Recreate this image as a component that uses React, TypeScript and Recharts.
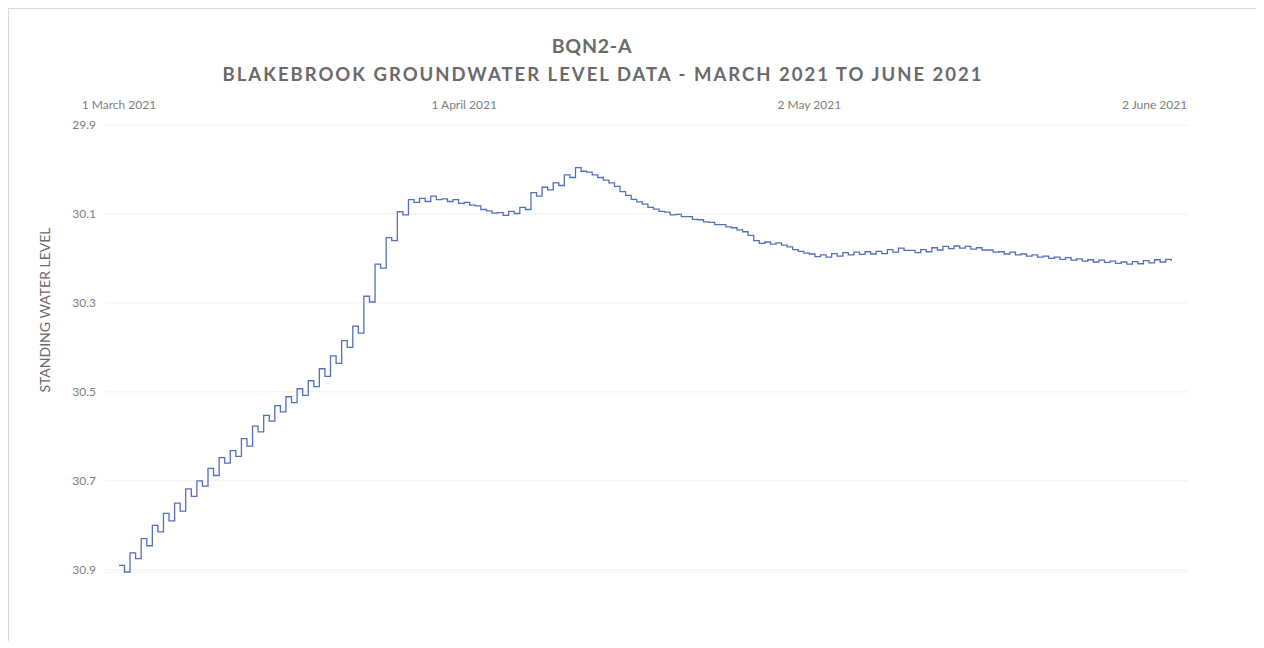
import React from 'react';
import { LineChart, Line, XAxis, YAxis, CartesianGrid } from 'recharts';

// Standing water level, read twice a day (start of day / midday), 1 March 2021 = day 0
const morningLevel = [
  30.890, 30.862, 30.830, 30.800, 30.773, 30.750, 30.718, 30.700, 30.672, 30.648,
  30.632, 30.605, 30.577, 30.553, 30.531, 30.511, 30.493, 30.475, 30.448, 30.419,
  30.385, 30.352, 30.285, 30.213, 30.153, 30.095, 30.068, 30.065, 30.060, 30.066,
  30.068, 30.074, 30.082, 30.093, 30.097, 30.094, 30.085, 30.052, 30.040, 30.030,
  30.012, 29.996, 30.006, 30.018, 30.030, 30.050, 30.067, 30.078, 30.089, 30.096,
  30.101, 30.106, 30.113, 30.119, 30.124, 30.131, 30.140, 30.160, 30.163, 30.165,
  30.174, 30.184, 30.190, 30.192, 30.189, 30.187, 30.186, 30.185, 30.184, 30.180,
  30.177, 30.182, 30.180, 30.176, 30.173, 30.172, 30.173, 30.176, 30.181, 30.185,
  30.186, 30.190, 30.192, 30.195, 30.197, 30.198, 30.201, 30.203, 30.204, 30.206,
  30.208, 30.207, 30.205, 30.203, 30.202,
];

const middayLevel = [
  30.905, 30.875, 30.846, 30.815, 30.790, 30.768, 30.735, 30.712, 30.688, 30.660,
  30.645, 30.622, 30.590, 30.566, 30.545, 30.524, 30.508, 30.488, 30.465, 30.436,
  30.400, 30.368, 30.298, 30.222, 30.160, 30.102, 30.074, 30.072, 30.068, 30.072,
  30.076, 30.080, 30.090, 30.098, 30.103, 30.099, 30.090, 30.060, 30.046, 30.036,
  30.018, 30.004, 30.012, 30.024, 30.038, 30.058, 30.073, 30.085, 30.094, 30.102,
  30.106, 30.112, 30.118, 30.124, 30.129, 30.136, 30.148, 30.166, 30.168, 30.170,
  30.180, 30.188, 30.196, 30.197, 30.195, 30.192, 30.191, 30.190, 30.189, 30.186,
  30.182, 30.187, 30.185, 30.181, 30.178, 30.177, 30.179, 30.181, 30.186, 30.190,
  30.192, 30.195, 30.197, 30.200, 30.202, 30.204, 30.206, 30.208, 30.209, 30.211,
  30.213, 30.212, 30.210, 30.208, 30.206,
];

const dateTicks = [0, 31, 62, 93];
const dateLabels = ['1 March 2021', '1 April 2021', '2 May 2021', '2 June 2021'];
const levelTicks = [29.9, 30.1, 30.3, 30.5, 30.7, 30.9];

const chartData: { t: number; level: number }[] = [];
morningLevel.forEach((v, i) => {
  chartData.push({ t: i, level: v });
  chartData.push({ t: i + 0.5, level: middayLevel[i] });
});

const font = 'Lato, "Open Sans", sans-serif';
const tickStyle = { fontSize: 12, fill: '#7d7d7d', fontFamily: font };

export default function App() {
  return (
    <div
      style={{
        position: 'relative',
        width: 1248,
        height: 632,
        borderTop: '1px solid #d9d9d9',
        borderLeft: '1px solid #d9d9d9',
        fontFamily: font,
      }}
    >
      <div
        style={{
          position: 'absolute',
          left: 183,
          width: 800,
          top: 26,
          textAlign: 'center',
          fontSize: 19.5,
          lineHeight: '22px',
          fontWeight: 700,
          letterSpacing: 0.8,
          color: '#6a6a6a',
        }}
      >
        BQN2-A
      </div>
      <div
        style={{
          position: 'absolute',
          left: 94,
          width: 1000,
          top: 55,
          textAlign: 'center',
          fontSize: 18.5,
          lineHeight: '20px',
          fontWeight: 700,
          letterSpacing: 2,
          color: '#6a6a6a',
        }}
      >
        BLAKEBROOK GROUNDWATER LEVEL DATA - MARCH 2021 TO JUNE 2021
      </div>
      <div
        style={{
          position: 'absolute',
          left: 36 - 100,
          top: 301 - 9,
          width: 200,
          textAlign: 'center',
          fontSize: 14,
          lineHeight: '18px',
          color: '#6a6a6a',
          transform: 'rotate(-90deg)',
          whiteSpace: 'nowrap',
        }}
      >
        STANDING WATER LEVEL
      </div>
      <LineChart
        width={1247}
        height={631}
        data={chartData}
        margin={{ top: 86, right: 68, bottom: 68, left: 36 }}
      >
        <CartesianGrid vertical={false} stroke="#f0f0f0" />
        <XAxis
          dataKey="t"
          type="number"
          orientation="top"
          domain={[-1.25, 96]}
          ticks={dateTicks}
          tickFormatter={(v: number) => dateLabels[dateTicks.indexOf(v)] ?? ''}
          axisLine={false}
          tickLine={false}
          tickSize={0}
          tickMargin={16}
          height={30}
          tick={tickStyle}
          interval={0}
        />
        <YAxis
          type="number"
          domain={[29.9, 30.9]}
          reversed
          ticks={levelTicks}
          tickFormatter={(v: number) => v.toFixed(1)}
          axisLine={false}
          tickLine={false}
          tickSize={0}
          tickMargin={9}
          width={60}
          tick={tickStyle}
          interval={0}
        />
        <Line
          type="stepAfter"
          dataKey="level"
          stroke="#5570b8"
          strokeWidth={1.3}
          dot={false}
          isAnimationActive={false}
        />
      </LineChart>
    </div>
  );
}
